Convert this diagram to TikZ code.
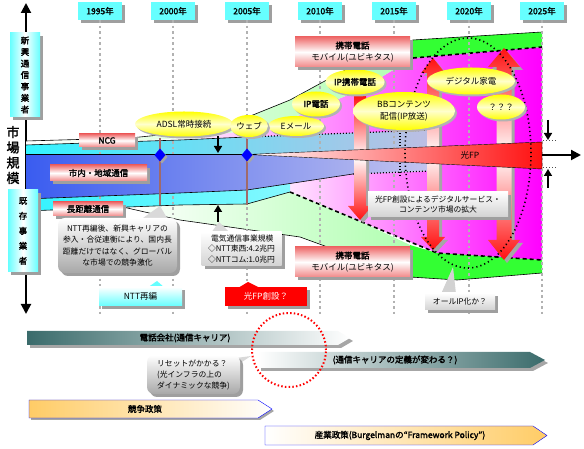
\documentclass[tikz,border=0pt]{standalone}
\usepackage{fontspec}
\setmainfont{Noto Sans CJK JP}[AutoFakeBold=2]
\usetikzlibrary{positioning,shapes,arrows.meta,shadows,calc}
\definecolor{yearcyan}{HTML}{66FFFF}
\definecolor{bandcyan}{HTML}{33F4FF}
\definecolor{blueband}{HTML}{3A5CF0}
\definecolor{lavender}{HTML}{C4C4EE}
\definecolor{pinklight}{HTML}{FFE4FF}
\definecolor{pinkmid}{HTML}{FF9CFF}
\definecolor{magentaFP}{HTML}{FF00FF}
\definecolor{mobgreen}{HTML}{33FF33}
\definecolor{palegreen}{HTML}{B0FFB0}
\definecolor{fpred}{HTML}{FF1010}
\definecolor{labelred}{HTML}{EE6A6A}
\definecolor{carrier}{HTML}{3A6B6B}
\definecolor{policy}{HTML}{FFCC66}
\definecolor{mast}{HTML}{A06A6A}
\definecolor{callgray}{HTML}{A8A8A8}

\begin{document}
\begin{tikzpicture}[x=1pt, y=1pt, font=\fontsize{8.5}{10}\selectfont,
    boxshadow/.style={drop shadow={shadow xshift=3pt, shadow yshift=-3pt, fill=gray!75, opacity=1}},
    yearbox/.style={fill=yearcyan, minimum width=44pt, minimum height=18pt, inner sep=0pt, font=\fontsize{8.5}{10}\selectfont\bfseries, boxshadow},
    yearline/.style={gray!60, line width=2pt, dash pattern=on 2.5pt off 3pt},
    pinklabel/.style={top color=labelred, bottom color=labelred!80, middle color=white, inner sep=0pt, boxshadow},
    sidelabel/.style={left color=yearcyan, right color=yearcyan, middle color=white, minimum width=30pt, inner sep=0pt, align=center, boxshadow},
    oval/.style={ellipse, top color=yellow, bottom color=yellow, middle color=yellow!20, inner sep=0pt, drop shadow={shadow xshift=2pt, shadow yshift=-2pt, fill=gray!60, opacity=1}},
    callout/.style={rounded corners=7pt, top color=white, bottom color=callgray, inner sep=2pt, boxshadow, font=\fontsize{7.8}{11.5}\selectfont},
    notebox/.style={top color=white, bottom color=gray!35, inner sep=2pt, boxshadow, font=\fontsize{7.8}{10.5}\selectfont},
    bandedge/.style={black, line width=0.6pt},
    banddot/.style={black, line width=1.2pt, dash pattern=on 1pt off 2pt},
    banddash/.style={black, line width=1.6pt, dash pattern=on 4pt off 3pt},
    pointer/.style={line width=1.5pt, -{Triangle[width=8pt,length=7pt]}},
    bigarrow/.style={top color=fpred, bottom color=fpred, middle color=white},
    arrowshadow/.style={fill=gray!70}
]
    \useasboundingbox (0,0) rectangle (584,449);

    % Market size axis
    \coordinate (axisbottom) at (26,135);
    \coordinate (axistop) at (26,446);
    \draw[line width=2pt, {Triangle[width=10pt,length=10pt]}-{Triangle[width=10pt,length=10pt]}] (axisbottom) -- (axistop);

    % Upper half: new services (pink)
    \shade[left color=pinklight, middle color=pinkmid, right color=magentaFP]
        (200,312) -- (250,319) -- (300,334) -- (360,359) -- (413,391) -- (542,402)
        -- (542,307) -- (247,294.5) -- (200,294.5) -- cycle;
    % Upper mobile band
    \shade[left color=white, right color=palegreen]
        (26,308) -- (130,311) -- (200,318) -- (243,330) -- (290,349) -- (323,367) -- (353,383) -- (413,409)
        -- (413,391) -- (360,359) -- (300,334) -- (250,319) -- (200,312) -- (130,308) -- (26,304) -- cycle;
    \fill[mobgreen] (413,409) -- (542,417) -- (542,402) -- (413,391) -- cycle;
    \draw[bandedge] (26,308) -- (130,311) -- (200,318) -- (243,330) -- (290,349) -- (323,367) -- (353,383) -- (413,409) -- (542,417);
    \draw[banddash] (413,391) -- (542,402);
    % Upper cyan band (NCG)
    \shade[left color=bandcyan, right color=lavender!90!gray]
        (26,304) -- (180,309) -- (247,312) -- (353,316) -- (430,319) -- (430,302.3) -- (247,294.5) -- (26,294.5) -- cycle;
    \draw[bandedge] (26,304) -- (180,309) -- (247,312);
    \draw[banddot] (247,312) -- (353,316) -- (430,319);

    % Lower half: new services (pink)
    \shade[left color=pinklight, middle color=pinkmid, right color=magentaFP]
        (290,265.5) -- (353,275) -- (430,278) -- (430,285.5) -- (542,280) -- (542,189)
        -- (437,196) -- (357,229) -- (290,257) -- cycle;
    % Lower mobile band
    \shade[left color=white, right color=palegreen]
        (125,241.5) -- (180,244) -- (247,245) -- (290,257) -- (357,229) -- (410,204)
        -- (410,172) -- (300,212) -- (180,229) -- cycle;
    \fill[mobgreen] (410,204) -- (437,196) -- (542,189) -- (542,176) -- (457,169) -- (410,172) -- cycle;
    \draw[bandedge] (125,241.5) -- (180,229) -- (300,212) -- (410,172) -- (457,169) -- (542,176);
    \draw[banddash] (290,257) -- (357,229) -- (437,196) -- (542,189);
    % Lower cyan band (long distance)
    \shade[left color=bandcyan, right color=bandcyan!60]
        (26,250) -- (180,256) -- (247,259) -- (290,265.5) -- (290,257) -- (247,245) -- (180,244) -- (26,238) -- cycle;
    \draw[bandedge] (26,238) -- (180,244) -- (247,245) -- (290,257);

    % Year grid
    \foreach \yr/\xx in {1995/100, 2000/173, 2005/247, 2010/320, 2015/394, 2020/469, 2025/542} {
        \node[yearbox] (y\yr) at (\xx,438) {\yr 年};
        \draw[yearline] (y\yr.south) -- (y\yr.south |- axisbottom);
    }

    % Local band (blue)
    \shade[left color=blueband, right color=lavender]
        (26,294.5) -- (247,294.5) -- (430,285.5) -- (430,278) -- (353,275) -- (247,259) -- (180,256) -- (26,250) -- cycle;
    \draw[bandedge] (26,250) -- (180,256) -- (247,259) -- (353,275);
    \draw[banddot] (353,275) -- (430,278);
    \draw[banddot] (400,319) -- (400,272);
    \draw[black, line width=1.6pt] (26,294.5) -- (247,294.5);

    % Expansion arrows
    \foreach \dx/\dy/\sty in {3/-3/arrowshadow, 0/0/bigarrow} {
        \begin{scope}[xshift=\dx pt, yshift=\dy pt]
            \path[\sty] (354,354) -- (366,354) -- (366,243) -- (372,243) -- (360,229) -- (348,243) -- (354,243) -- cycle;
            \path[\sty] (433,391) -- (445,376) -- (439,376) -- (439,212) -- (445,212) -- (433,199) -- (421,212) -- (427,212) -- (427,376) -- (421,376) -- cycle;
            \path[\sty] (504,401) -- (520,382) -- (511.5,382) -- (511.5,209) -- (520,209) -- (504,189) -- (488,209) -- (496.5,209) -- (496.5,382) -- (488,382) -- cycle;
        \end{scope}
    }

    % Optical FP wedge
    \shade[left color=white, right color=fpred, draw=black, thin] (247,294.5) -- (542,307) -- (542,280) -- cycle;
    \node (fplabel) at (470,294) {光FP};
    \coordinate (fpend) at (542,294);
    \coordinate (fptip) at (581,294);
    \draw[line width=2pt, -{Triangle[width=10pt,length=10pt]}] (fpend) -- (fptip);
    \draw[banddot, gray!60!black, line width=1pt] (543,308) -- (557,308);
    \draw[banddot, gray!60!black, line width=1pt] (543,281) -- (557,281);
    \coordinate (fpdownfrom) at (548,329);
    \coordinate (fpdownto) at (548,309);
    \coordinate (fpupfrom) at (548,261);
    \coordinate (fpupto) at (548,280);
    \draw[pointer] (fpdownfrom) -- (fpdownto);
    \draw[pointer] (fpupfrom) -- (fpupto);

    % Events (NTT reorganisation, optical FP)
    \draw[mast, line width=2pt] (160,311) -- (160,244);
    \draw[mast, line width=2pt] (247,312) -- (247,244);
    \foreach \xx in {160,247} {
        \fill[gray!70] (\xx+2,298.5) -- (\xx+7.5,292) -- (\xx+2,285.5) -- (\xx-3.5,292) -- cycle;
        \fill[blue] (\xx,300.5) -- (\xx+5.5,294) -- (\xx,287.5) -- (\xx-5.5,294) -- cycle;
    }
    \coordinate (adslfoot) at (218,313);
    \coordinate (linetop) at (218,296);
    \coordinate (scaletop) at (218,227);
    \coordinate (bandfoot) at (218,244);
    \draw[pointer] (adslfoot) -- (linetop);
    \draw[pointer] (scaletop) -- (bandfoot);

    % Digital market ellipse
    \draw[black, line width=1.6pt, dash pattern=on 1.2pt off 3pt] (468,296) ellipse [x radius=63, y radius=115];

    % Services
    \node[oval, minimum width=98pt, minimum height=25pt] (adsl) at (184,325) {ADSL常時接続};
    \node[oval, minimum width=56pt, minimum height=20pt] (email) at (296,323) {Eメール};
    \node[oval, minimum width=38pt, minimum height=22pt] (web) at (249,323) {ウェブ};
    \node[oval, minimum width=48pt, minimum height=25pt, font=\fontsize{8.5}{10}\selectfont\bfseries] (ipphone) at (316,345) {IP電話};
    \node[oval, minimum width=58pt, minimum height=25pt, font=\fontsize{8.5}{10}\selectfont\bfseries] (ipmobile) at (355,367) {IP携帯電話};
    \node[oval, minimum width=102pt, minimum height=38pt, align=center, font=\fontsize{8.5}{12}\selectfont] (bbcontent) at (404,338) {BBコンテンツ\\配信(IP放送)};
    \node[oval, minimum width=88pt, minimum height=27pt] (digital) at (471,368) {デジタル家電};
    \node[oval, minimum width=48pt, minimum height=25pt] (unknown) at (501,342) {？？？};

    % Market labels
    \node[pinklabel, minimum width=56pt, minimum height=13pt, font=\fontsize{8.5}{10}\selectfont\bfseries] (ncg) at (107,308.5) {NCG};
    \node[pinklabel, minimum width=97pt, minimum height=16pt, font=\fontsize{8.5}{10}\selectfont\bfseries] (local) at (98.5,276) {市内・地域通信};
    \node[pinklabel, minimum width=70pt, minimum height=14pt, font=\fontsize{8.5}{10}\selectfont\bfseries] (longdist) at (88,240) {長距離通信};
    \node[pinklabel, minimum width=115pt, minimum height=30pt, align=center, font=\fontsize{8.5}{12}\selectfont] (mobiletop) at (352.5,397) {\textbf{携帯電話}\\モバイル(ユビキタス)};
    \node[pinklabel, minimum width=115pt, minimum height=30pt, align=center, font=\fontsize{8.5}{12}\selectfont] (mobilebot) at (352.5,187) {\textbf{携帯電話}\\モバイル(ユビキタス)};

    % Axis labels
    \node[sidelabel, minimum height=84pt, font=\fontsize{8.5}{11.5}\selectfont\bfseries] (newcomers) at (25,374) {新\\興\\通\\信\\事\\業\\者};
    \node[sidelabel, minimum height=82pt, font=\fontsize{8.5}{15}\selectfont\bfseries] (incumbents) at (23,218) {既\\存\\事\\業\\者};
    \node[align=center, font=\fontsize{13}{15.3}\selectfont\bfseries] (market) at (13,294) {市\\場\\規\\模};

    % Notes
    \fill[gray!30] (143,231) -- (167,231) -- (160,243) -- cycle;
    \node[callout, minimum width=119pt, minimum height=55pt, align=center] (nttnote) at (117.5,203.5) {NTT再編後、新興キャリアの\\参入・合従連衡により、国内長\\距離だけではなく、グローバル\\な市場での競争激化};
    \fill[gray!30] (211,216) -- (230,216) -- (219,227) -- cycle;
    \node[notebox, minimum width=80pt, minimum height=34pt, align=left] (scale) at (241.5,200) {\hspace*{3pt}電気通信事業規模\\◇NTT東西:4.2兆円\\◇NTTコム:1.0兆円};
    \node[notebox, minimum width=140pt, minimum height=25pt, align=center] (fpnote) at (438,244.5) {光FP創設によるデジタルサービス・\\コンテンツ市場の拡大};
    \fill[gray!35] (441,155) -- (456,155) -- (453,182) -- cycle;
    \node[notebox, minimum width=70pt, minimum height=17pt] (allip) at (460,147.5) {オールIP化か？};

    % Events on the time axis
    \fill[yearcyan] (147,161) -- (157,168) -- (165,161) -- cycle;
    \node[top color=white, bottom color=yearcyan, minimum width=83pt, minimum height=19pt, inner sep=0pt, boxshadow] (nttreorg) at (140.5,152.5) {NTT再編};
    \fill[red] (238,161) -- (248,167) -- (260,161) -- cycle;
    \node[fill=red, text=white, minimum width=82pt, minimum height=19pt, inner sep=0pt, boxshadow] (fpfound) at (266,152.5) {光FP創設？};

    % Carriers
    \fill[gray!70] (30,115) -- (341,115) -- (353,108) -- (341,101) -- (30,101) -- cycle;
    \shade[left color=carrier, middle color=carrier!30, right color=white] (27,118) -- (338,118) -- (350,111) -- (338,104) -- (27,104) -- cycle;
    \node[font=\fontsize{8.5}{10}\selectfont\bfseries] (carrierlabel) at (185,111) {電話会社(通信キャリア)};
    \fill[gray!70] (261,94) -- (533,94) -- (548,86) -- (533,78) -- (261,78) -- cycle;
    \shade[left color=white, right color=carrier] (258,97) -- (530,97) -- (545,89) -- (530,81) -- (258,81) -- cycle;
    \node[font=\fontsize{8.5}{10}\selectfont\bfseries] (definition) at (395,89) {(通信キャリアの定義が変わる？)};

    % Reset
    \fill[gray!30] (236,91) -- (236,83) -- (251,93) -- cycle;
    \node[callout, minimum width=93pt, minimum height=39pt, align=left, font=\fontsize{7.8}{11}\selectfont] (reset) at (193.5,74.5) {リセットがかかる？\\(光インフラの上の\\ダイナミックな競争)};
    \draw[red, line width=2pt, dash pattern=on 1.5pt off 2.2pt] (289,99) circle (37);

    % Policies
    \fill[gray!70] (31,47) -- (260,47) -- (274,38) -- (260,29) -- (31,29) -- cycle;
    \shade[left color=policy, right color=white, draw=blue, thin] (29,49) -- (258,49) -- (272,40) -- (258,31) -- (29,31) -- cycle;
    \node[font=\fontsize{8.5}{10}\selectfont\bfseries] (competition) at (145,40) {競争政策};
    \shade[left color=white, right color=policy, draw=blue, thin] (265,23) -- (533,23) -- (547,13.5) -- (533,4) -- (265,4) -- cycle;
    \node[font=\fontsize{8.5}{10}\selectfont\bfseries] (industry) at (400,13.5) {産業政策(Burgelmanの“Framework Policy”)};
\end{tikzpicture}
\end{document}
